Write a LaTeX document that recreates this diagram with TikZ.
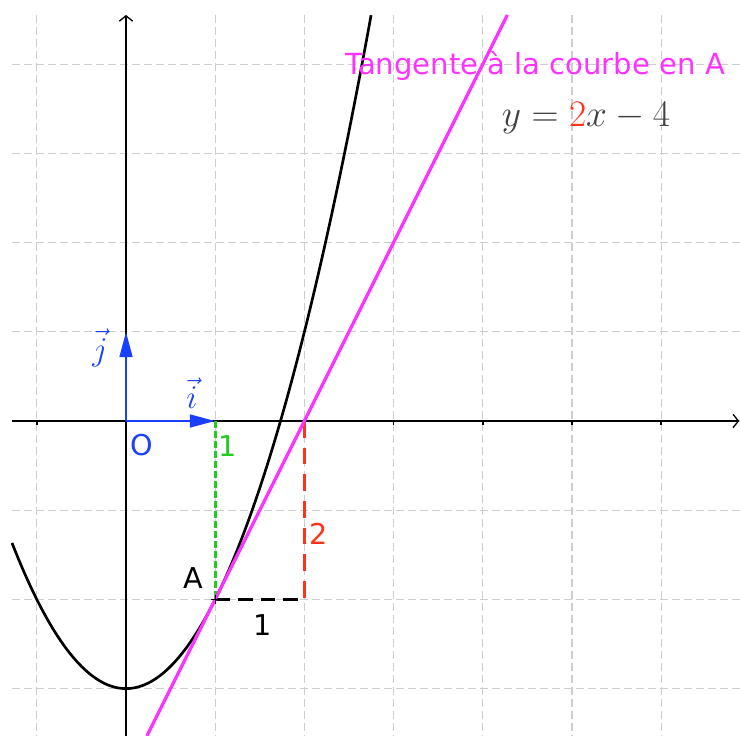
\documentclass[tikz,border=0pt]{standalone}
\usepackage{fontspec}
\newfontfamily\labfont{DejaVu Sans}
\usetikzlibrary{arrows.meta,calc}
\definecolor{mag}{RGB}{255,51,255}
\definecolor{myred}{RGB}{255,51,26}
\definecolor{mygreen}{RGB}{34,204,34}
\definecolor{myblue}{RGB}{26,64,255}
\definecolor{gridgray}{RGB}{205,205,205}
\begin{document}
\begin{tikzpicture}[x=66.9pt,y=66.9pt,
  gridline/.style={gridgray, line width=0.8pt, dash pattern=on 6pt off 3pt},
  axisline/.style={black, line width=1.1pt, -{Straight Barb[length=4pt,width=10pt,line width=1pt]}},
  tick/.style={black, line width=1.1pt},
  curve/.style={black, line width=2pt},
  tangent/.style={mag, line width=2.4pt},
  vecarrow/.style={myblue, line width=2pt, -{Triangle[length=19pt,width=9.5pt]}},
  greendash/.style={mygreen, line width=2.3pt, dash pattern=on 5pt off 2.5pt},
  reddash/.style={myred, line width=2.4pt, dash pattern=on 12.5pt off 7.5pt},
  blackdash/.style={black, line width=2.4pt, dash pattern=on 11pt off 6pt},
  lab/.style={inner sep=0pt, font=\labfont\fontsize{21.5}{25}\selectfont},
  veclab/.style={inner sep=0pt, myblue, font=\fontsize{24.88}{29}\selectfont}
]
\useasboundingbox (-1.4126,-3.5314) rectangle (6.8834,4.7197);
% grid
\foreach \gx in {-1,...,6} \draw[gridline] (\gx,4.552) -- (\gx,-3.5314);
\foreach \gy in {-3,...,4} \draw[gridline] (-1.278,\gy) -- (6.8834,\gy);
% axes
\coordinate (xs) at (-1.278,0);
\coordinate (xe) at (6.875,0);
\coordinate (ys) at (0,-3.5314);
\coordinate (ye) at (0,4.552);
\draw[axisline] (xs) -- (xe);
\draw[axisline] (ys) -- (ye);
\foreach \tx in {-1,1,2,3,4,5,6} \draw[tick] (\tx,0) -- (\tx,-0.04);
% key points
\coordinate (O) at (0,0);
\coordinate (I) at (1,0);
\coordinate (J) at (0,1);
\coordinate (A) at (1,-2);
\coordinate (B) at (2,-2);
\coordinate (C) at (2,0);
% dashed constructions
\draw[greendash] (I) -- (A);
\draw[reddash] (C) -- (B);
\draw[blackdash] (A) -- (B);
% curve
\draw[curve] plot[domain=-1.278:2.748, samples=120, smooth] (\x,{\x*\x-3});
% tangent
\coordinate (T1) at (0.2343,-3.5314);
\coordinate (T2) at (4.276,4.552);
\draw[tangent] (T1) -- (T2);
% point A mark
\draw[black, line width=1pt] ($(A)+(-0.05,0)$) -- ($(A)+(0.05,0)$) ($(A)+(0,-0.05)$) -- ($(A)+(0,0.05)$);
% unit vectors
\draw[vecarrow] (O) -- (I);
\draw[vecarrow] (O) -- (J);
% labels
\node[veclab] (li) at (0.74,0.31) {$\vec{i}$};
\node[veclab] (lj) at (-0.29,0.82) {$\vec{j}$};
\node[lab, myblue] (lO) at (0.18,-0.27) {O};
\node[lab, mygreen] (l1g) at (1.143,-0.28) {1};
\node[lab, myred] (l2) at (2.16,-1.27) {2};
\node[lab, black] (lA) at (0.76,-1.766) {A};
\node[lab, black] (l1b) at (1.536,-2.29) {1};
\node[inner sep=0pt, anchor=base, mag, font=\labfont\fontsize{21.8}{26}\selectfont] (title) at (4.585,3.879) {Tangente à la courbe en A};
\node[inner sep=0pt, anchor=base, black!75, font=\fontsize{24.88}{30}\selectfont] (eq) at (5.157,3.307) {\scalebox{1.13}{$y = {\color{myred}2}x - 4$}};
\end{tikzpicture}
\end{document}
